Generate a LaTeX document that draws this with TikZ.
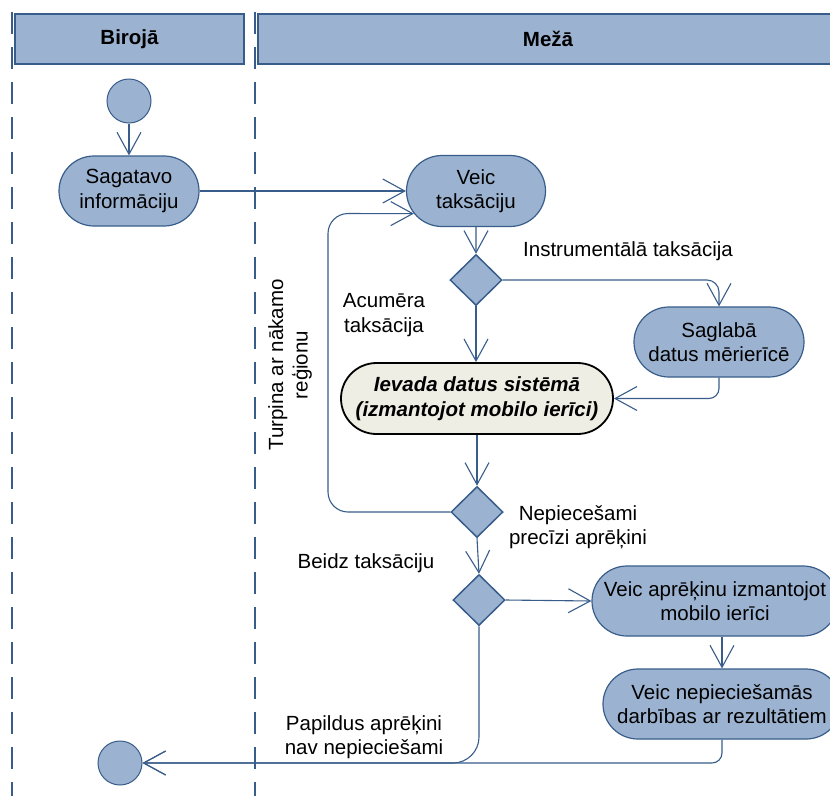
\documentclass[tikz,border=0pt]{standalone}
\usepackage{fontspec}
\setmainfont{Liberation Sans}
\usetikzlibrary{arrows.meta,shapes.geometric,shapes.misc}
\definecolor{lanefill}{RGB}{155,179,209}
\definecolor{laneline}{RGB}{56,93,138}
\definecolor{notefill}{RGB}{238,238,228}
\tikzset{
  txt/.style={font=\fontsize{20.5}{24.5}\selectfont, align=center, inner sep=0pt},
  act/.style={txt, rounded rectangle, draw=laneline, fill=lanefill, line width=1.2pt},
  note/.style={txt, rounded rectangle, draw=black, fill=notefill, line width=1.8pt,
    font=\fontsize{20.5}{24.5}\selectfont\bfseries\itshape},
  dec/.style={diamond, draw=laneline, fill=lanefill, line width=1.5pt, inner sep=0pt,
    minimum width=52pt, minimum height=51pt},
  dot/.style={circle, draw=laneline, fill=lanefill, line width=1pt, inner sep=0pt,
    minimum size=44pt},
  lanehead/.style={draw=laneline, fill=lanefill, line width=1.5pt},
  laneedge/.style={draw=laneline, line width=1.5pt, dash pattern=on 22pt off 13pt},
  flow/.style={draw=laneline, line width=1.1pt,
    -{Straight Barb[length=22pt, width=24pt, line width=1.1pt]}},
  lbl/.style={txt}
}
\begin{document}
\begin{tikzpicture}[x=1pt, y=-1pt]
\useasboundingbox (0,0) rectangle (830,796);
\fill[white] (0,0) rectangle (830,796);
\clip (0,0) rectangle (830,796);

% swimlane borders and headers
\draw[laneedge] (12,12) -- (12,796);
\draw[laneedge] (255,12) -- (255,796);
\node[lanehead, minimum width=229pt, minimum height=50pt, txt, font=\fontsize{20.5}{24.5}\selectfont\bfseries] (hoffice) at (129.5,39) {Birojā};
\draw[lanehead] (258,14) rectangle (840,64);
\node[txt, font=\fontsize{20.5}{24.5}\selectfont\bfseries] (hforest) at (548,39) {Mežā};

% activities
\node[dot] (start) at (129,101) {};
\node[act, minimum width=140pt, minimum height=70pt] (prep) at (129,191) {Sagatavo\\informāciju};
\node[act, minimum width=139pt, minimum height=71pt] (tax) at (476,191) {Veic\\taksāciju};
\node[dec] (d1) at (476,280) {};
\node[act, minimum width=170pt, minimum height=70pt] (save) at (719,342) {Saglabā\\datus mērierīcē};
\node[note, minimum width=272pt, minimum height=71pt] (enter) at (477,398.5) {Ievada datus sistēmā\\(izmantojot mobilo ierīci)};
\node[dec] (d2) at (477,512) {};
\node[dec] (d3) at (479,600) {};
\node[act, minimum width=246pt, minimum height=70pt] (calc) at (715,601) {Veic aprēķinu izmantojot\\mobilo ierīci};
\node[act, minimum width=238pt, minimum height=70pt] (post) at (722,704) {Veic nepieciešamās\\darbības ar rezultātiem};
\node[dot, minimum size=44pt] (end) at (120,763) {};

% labels
\node[lbl] (linstr) at (628,251) {Instrumentālā taksācija};
\node[lbl] (lacu) at (384,315) {Acumēra\\taksācija};
\node[lbl, rotate=90] (lnext) at (290,365) {Turpina ar nākamo\\reģionu};
\node[lbl] (lprec) at (578,527) {Nepiecešami\\precīzi aprēķini};
\node[lbl] (lstop) at (366,563) {Beidz taksāciju};
\node[lbl] (lnone) at (364,737) {Papildus aprēķini\\nav nepieciešami};

% flows
\draw[flow] (start) -- (prep);
\draw[flow] (prep.east) -- (tax.west);
\draw[flow] (tax) -- (d1);
\draw[flow, rounded corners=12pt] (d1.east) -- (719,280) -- (save.north);
\draw[flow] (d1.south) -- (d1.south |- enter.north);
\draw[flow, rounded corners=10pt] (save.south) -- (719,398.5) -- (enter.east);
\draw[flow] (enter.south) -- (d2.north);
\draw[flow, rounded corners=20pt] (d2.west) -- (328,512) -- (328,213.5) -- (tax.200);
\draw[flow] (d2.south) -- (d3.north);
\draw[flow] (d3.east) -- (calc.west);
\draw[flow] (post.north |- calc.south) -- (post.north);
\draw[flow, rounded corners=10pt] (post.south) -- (722,763) -- (end.east);
\draw[flow, rounded corners=26pt] (d3.south) -- (479,763) -- (end.east);
\end{tikzpicture}
\end{document}
